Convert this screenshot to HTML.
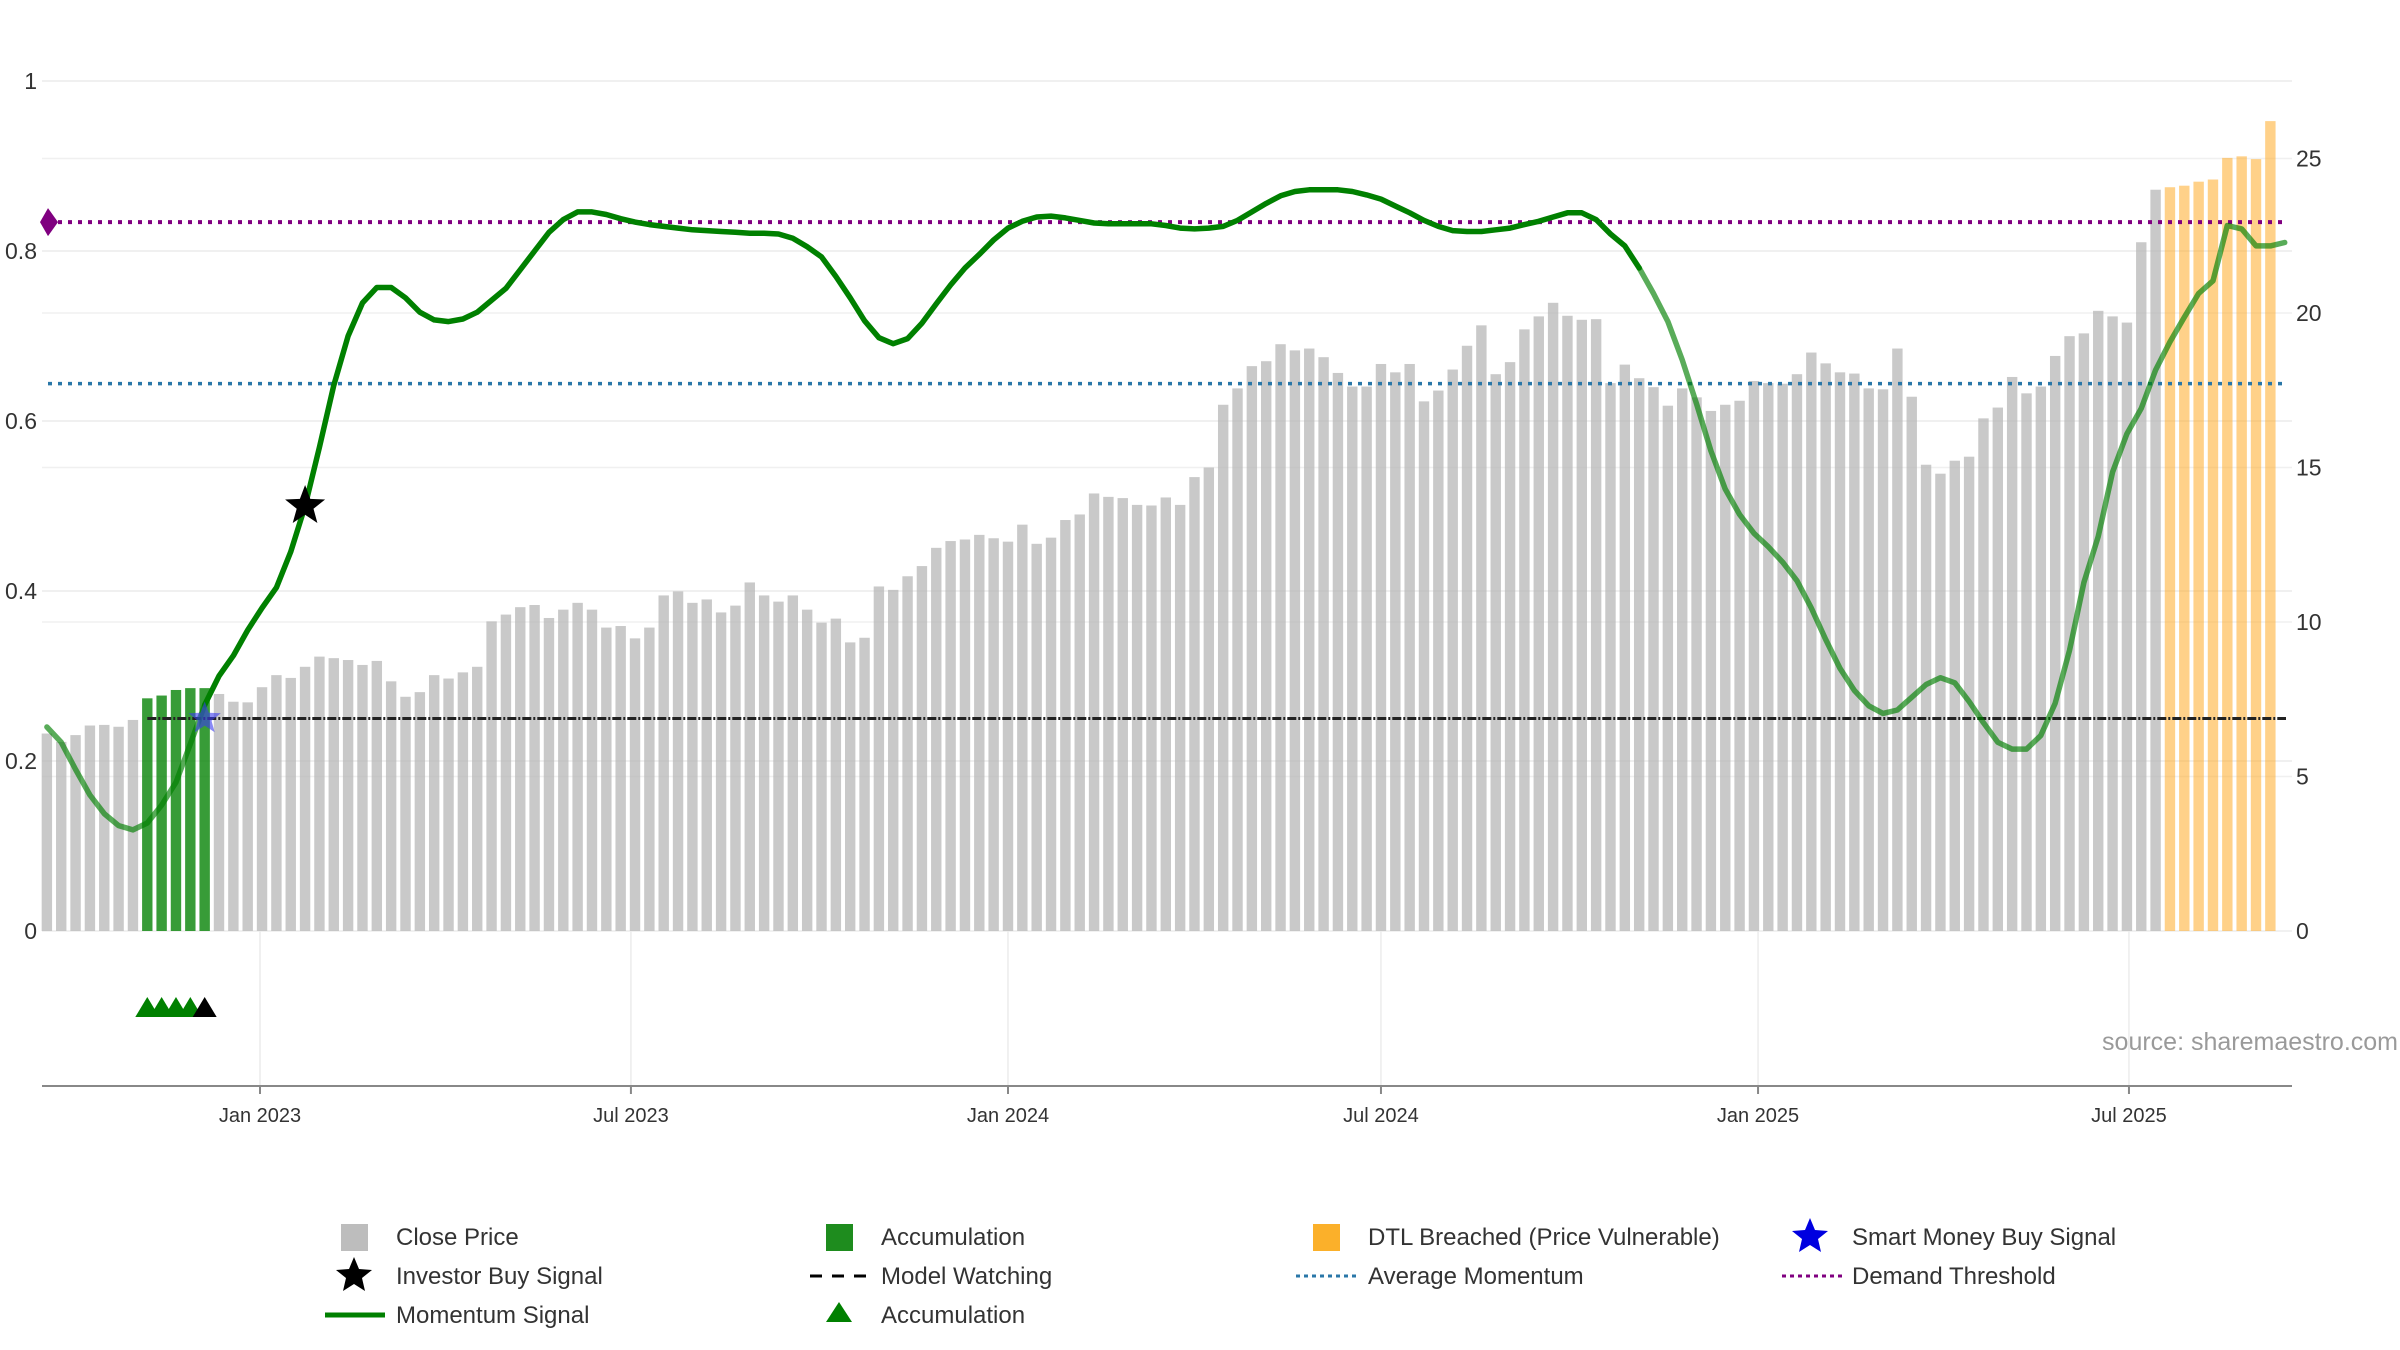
<!DOCTYPE html>
<html><head><meta charset="utf-8"><style>
html,body{margin:0;padding:0;background:#fff;}
svg{display:block;font-family:"Liberation Sans","DejaVu Sans",sans-serif;}
</style></head><body>
<svg id="chart" width="2400" height="1350" viewBox="0 0 2400 1350" xmlns="http://www.w3.org/2000/svg">
<g id="grid"></g>
<g id="bars"></g>
<g id="lines"></g>
<g id="momentum"></g>
<g id="markers"></g>
<g id="axes"></g>
<text x="2398" y="1050" text-anchor="end" font-size="25" fill="#9a9a9a">source: sharemaestro.com</text>
<g id="legend" font-size="24" fill="#333">
 <g><rect x="341" y="1224" width="27" height="27" fill="#bdbdbd"/><text x="396" y="1245">Close Price</text></g>
 <g><rect x="826" y="1224" width="27" height="27" fill="#1e8c1e"/><text x="881" y="1245">Accumulation</text></g>
 <g><rect x="1313" y="1224" width="27" height="27" fill="#fbb02a"/><text x="1368" y="1245">DTL Breached (Price Vulnerable)</text></g>
 <g><polygon points="1810,1218 1815,1230 1828,1231 1818,1239 1821,1252 1810,1245 1799,1252 1802,1239 1792,1231 1805,1230" fill="#0000e0"/><text x="1852" y="1245">Smart Money Buy Signal</text></g>
 <g><polygon points="354,1257 359,1269 372,1270 362,1278 365,1291 354,1284 343,1291 346,1278 336,1270 349,1269" fill="#000"/><text x="396" y="1284">Investor Buy Signal</text></g>
 <g><line x1="810" y1="1276" x2="868" y2="1276" stroke="#000" stroke-width="3" stroke-dasharray="12,10"/><text x="881" y="1284">Model Watching</text></g>
 <g><line x1="1296" y1="1276" x2="1356" y2="1276" stroke="#2a77a8" stroke-width="3" stroke-dasharray="4,4"/><text x="1368" y="1284">Average Momentum</text></g>
 <g><line x1="1782" y1="1276" x2="1842" y2="1276" stroke="#800080" stroke-width="3" stroke-dasharray="4,4"/><text x="1852" y="1284">Demand Threshold</text></g>
 <g><line x1="325" y1="1315" x2="385" y2="1315" stroke="#008000" stroke-width="5"/><text x="396" y="1323">Momentum Signal</text></g>
 <g><polygon points="839,1302 852,1322 826,1322" fill="#008000"/><text x="881" y="1323">Accumulation</text></g>
</g>
</svg>
<script>
const closePrices = [6.39,6.12,6.34,6.65,6.67,6.61,6.83,7.53,7.62,7.80,7.86,7.86,7.67,7.42,7.40,7.89,8.28,8.19,8.55,8.88,8.83,8.77,8.61,8.74,8.08,7.58,7.73,8.28,8.17,8.37,8.55,10.02,10.24,10.48,10.55,10.13,10.40,10.62,10.40,9.82,9.87,9.47,9.82,10.86,10.99,10.62,10.73,10.31,10.53,11.28,10.86,10.66,10.86,10.40,9.98,10.11,9.34,9.49,11.15,11.04,11.48,11.81,12.40,12.62,12.67,12.82,12.71,12.60,13.15,12.53,12.73,13.30,13.48,14.16,14.05,14.01,13.79,13.77,14.03,13.79,14.69,15.00,17.03,17.56,18.28,18.44,18.99,18.79,18.85,18.57,18.06,17.62,17.62,18.35,18.08,18.35,17.14,17.49,18.17,18.94,19.60,18.02,18.41,19.47,19.89,20.33,19.91,19.78,19.80,17.73,18.33,17.89,17.60,17.00,17.56,17.27,16.83,17.03,17.16,17.80,17.73,17.71,18.02,18.72,18.37,18.08,18.04,17.56,17.53,18.85,17.29,15.09,14.80,15.22,15.35,16.59,16.94,17.93,17.40,17.62,18.61,19.25,19.34,20.07,19.89,19.69,22.29,23.99,24.07,24.12,24.25,24.32,25.02,25.07,24.98,26.21];
const momentum = [0.24,0.222,0.19,0.16,0.138,0.124,0.119,0.127,0.148,0.175,0.22,0.266,0.3,0.324,0.354,0.38,0.404,0.446,0.5,0.569,0.642,0.70,0.739,0.757,0.757,0.745,0.728,0.719,0.717,0.72,0.728,0.742,0.756,0.778,0.8,0.822,0.837,0.846,0.846,0.843,0.838,0.834,0.831,0.829,0.827,0.825,0.824,0.823,0.822,0.821,0.821,0.82,0.815,0.805,0.793,0.77,0.745,0.718,0.698,0.691,0.697,0.715,0.738,0.76,0.78,0.796,0.813,0.827,0.835,0.84,0.841,0.839,0.836,0.833,0.832,0.832,0.832,0.832,0.83,0.827,0.826,0.827,0.829,0.836,0.846,0.856,0.865,0.87,0.872,0.872,0.872,0.87,0.866,0.861,0.853,0.845,0.836,0.829,0.824,0.823,0.823,0.825,0.827,0.831,0.835,0.84,0.845,0.845,0.837,0.82,0.806,0.78,0.75,0.717,0.672,0.62,0.565,0.52,0.49,0.468,0.452,0.434,0.412,0.38,0.343,0.309,0.283,0.265,0.256,0.26,0.275,0.29,0.298,0.292,0.27,0.245,0.222,0.214,0.214,0.23,0.268,0.33,0.41,0.464,0.54,0.585,0.615,0.66,0.693,0.722,0.75,0.765,0.83,0.826,0.806,0.806,0.81];
const accumulationBars = [7,8,9,10,11];
const accumulationMarkers = [7,8,9,10];
const watchMarkers = [11];
const dtlStart = 148;
const investorBuyIdx = [18];
const investorBuyVal = [0.5];
const smartMoneyIdx = [11];
const smartMoneyVal = [0.25];
const demandThreshold = 0.834;
const avgMomentum = 0.644;
const modelWatching = 0.25;
const modelWatchStart = 7;
const leftTicks = [0,0.2,0.4,0.6,0.8,1];
const leftTickLabels = ["0","0.2","0.4","0.6","0.8","1"];
const rightTicks = [0,5,10,15,20,25];
const xTickDates = ["2023-01-01","2023-07-01","2024-01-01","2024-07-01","2025-01-01","2025-07-01"];
const xTickLabels = ["Jan 2023","Jul 2023","Jan 2024","Jul 2024","Jan 2025","Jul 2025"];
const firstBarDate = "2022-09-19";

const NS="http://www.w3.org/2000/svg";
const X0=42,X1=2292,Y0=931,AXY=1086;
const day0=Date.parse("2023-01-01");
function xDate(ms){return 260+(ms-day0)/86400000*2.0493;}
function xIdx(i){return xDate(Date.parse(firstBarDate)+i*7*86400000);}
function yL(v){return Y0-v*850;}
function yR(v){return Y0-v*30.9;}
function mk(tag,attrs,parent){const e=document.createElementNS(NS,tag);for(const k in attrs)e.setAttribute(k,attrs[k]);parent.appendChild(e);return e;}
const G=id=>document.getElementById(id);

// grid
leftTicks.forEach((t)=>{const l=mk('line',{x1:X0,x2:X1,y1:yL(t),y2:yL(t),stroke:'#ebebeb','stroke-width':1.5},G('grid'));

});
rightTicks.forEach((t)=>{const l=mk('line',{x1:X0,x2:X1,y1:yR(t),y2:yR(t),stroke:'#f0f0f0','stroke-width':1.5},G('grid'));

});
xTickDates.forEach((d)=>{const x=xDate(Date.parse(d));const l=mk('line',{x1:x,x2:x,y1:Y0,y2:AXY,stroke:'#ececec','stroke-width':1.5},G('grid'));

});

// bars
closePrices.forEach((v,i)=>{
 let fill='rgba(180,180,180,0.72)',name='price-bar';
 if(accumulationBars.includes(i)){fill='rgba(0,128,0,0.78)';name='accumulation-bar';}
 if(i>=dtlStart){fill='rgba(255,172,40,0.55)';name='dtl-breached-bar';}
 const b=mk('rect',{x:xIdx(i)-5.2,y:yR(v),width:10.4,height:Y0-yR(v),fill:fill},G('bars'));
 
 
});

// reference lines
let l1=mk('line',{x1:48,x2:2286,y1:yL(demandThreshold),y2:yL(demandThreshold),stroke:'#800080','stroke-width':4,'stroke-dasharray':'4,6'},G('lines'));


let l2=mk('line',{x1:48,x2:2286,y1:yL(avgMomentum),y2:yL(avgMomentum),stroke:'#2a77a8','stroke-width':3.5,'stroke-dasharray':'4,6'},G('lines'));


let l3=mk('line',{x1:xIdx(modelWatchStart),x2:2286,y1:yL(modelWatching),y2:yL(modelWatching),stroke:'#222','stroke-width':3,'stroke-dasharray':'9,2,2,2'},G('lines'));


let dm=mk('polygon',{points:`48,${yL(demandThreshold)-14} 58,${yL(demandThreshold)} 48,${yL(demandThreshold)+14} 40,${yL(demandThreshold)}`,fill:'#800080'},G('lines'));



// momentum line segments
function seg(a,b,op){
 const pts=[];for(let i=a;i<=b;i++)pts.push(xIdx(i).toFixed(1)+','+yL(momentum[i]).toFixed(1));
 const p=mk('polyline',{points:pts.join(' '),fill:'none',stroke:'#008000','stroke-width':5.5,'stroke-opacity':op,'stroke-linejoin':'round','stroke-linecap':'round'},G('momentum'));
 
 
}
seg(0,11,0.65);seg(11,111,1);seg(111,momentum.length-1,0.65);

// markers
function star(cx,cy,r,fill,op,name){
 const pts=[];for(let k=0;k<10;k++){const a=-Math.PI/2+k*Math.PI/5;const rr=k%2?r*0.42:r;pts.push((cx+rr*Math.cos(a)).toFixed(1)+','+(cy+rr*Math.sin(a)).toFixed(1));}
 const s=mk('polygon',{points:pts.join(' '),fill:fill,'fill-opacity':op},G('markers'));
 
 
}
investorBuyIdx.forEach((i,k)=>star(xIdx(i),yL(investorBuyVal[k]),21,'#000',1,'investor-buy-star'));
smartMoneyIdx.forEach((i,k)=>star(xIdx(i),yL(smartMoneyVal[k]),17,'#3a3af0',0.6,'smart-money-star'));
function tri(i,fill,name){const x=xIdx(i),y=1008;
 const t=mk('polygon',{points:`${x},${y-11} ${x+12},${y+9} ${x-12},${y+9}`,fill:fill},G('markers'));
 
 }
accumulationMarkers.forEach(i=>tri(i,'#008000','accumulation-marker'));
watchMarkers.forEach(i=>tri(i,'#000','watch-marker'));

// axes
let ax=mk('line',{x1:X0,x2:X1,y1:AXY,y2:AXY,stroke:'#888','stroke-width':2},G('axes'));


xTickDates.forEach((d,k)=>{const x=xDate(Date.parse(d));
 const tk=mk('line',{x1:x,x2:x,y1:AXY,y2:AXY+8,stroke:'#888','stroke-width':2},G('axes'));
 
 
 const t=mk('text',{x:x,y:1122,'text-anchor':'middle','font-size':20,fill:'#333'},G('axes'));t.textContent=xTickLabels[k];
 
 });
leftTicks.forEach((v,k)=>{const t=mk('text',{x:37,y:yL(v)+8,'text-anchor':'end','font-size':23,fill:'#333'},G('axes'));t.textContent=leftTickLabels[k];
 
 });
rightTicks.forEach(v=>{const t=mk('text',{x:2296,y:yR(v)+8,'font-size':23,fill:'#333'},G('axes'));t.textContent=String(v);
 
 });
</script>
</body></html>
